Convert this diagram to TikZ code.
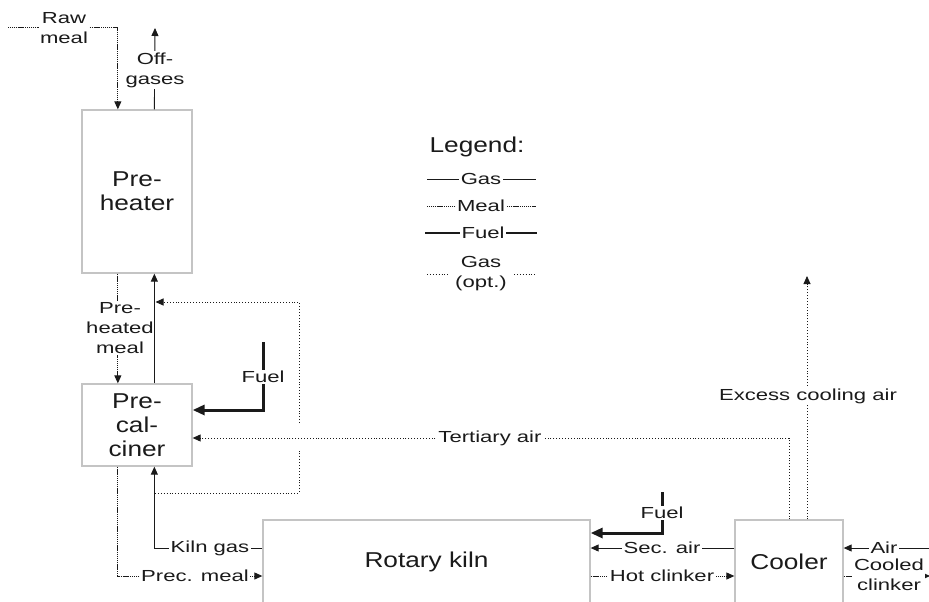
\documentclass[tikz,border=0pt]{standalone}
\usepackage{fontspec}
\setmainfont{Liberation Sans}
\newfontfamily\lblfont{Liberation Sans}[FakeStretch=1.38]
\newfontfamily\boxfont{Liberation Sans}[FakeStretch=1.22]
\usetikzlibrary{arrows.meta}
\definecolor{txt}{HTML}{1A1A1A}
\definecolor{boxc}{HTML}{C4C4C4}
\tikzset{
  box/.style={draw=boxc, line width=1.3pt, inner sep=0pt, text=txt,
    font=\boxfont\fontsize{21.5}{24}\selectfont, align=center},
  lbl/.style={fill=white, inner sep=1.5pt, text=txt,
    font=\lblfont\fontsize{16}{20}\selectfont, align=center},
  gas/.style={line width=0.9pt, draw=txt},
  meal/.style={line width=1pt, draw=txt, dash pattern=on 1.2pt off 0.7pt},
  optgas/.style={line width=0.9pt, draw=txt, dash pattern=on 0.9pt off 2pt},
  fuel/.style={line width=3pt, draw=txt},
  tip/.style={-{Triangle[length=8pt,width=7pt]}},
  bigtip/.style={-{Triangle[length=12pt,width=10pt]}},
}
\begin{document}
\begin{tikzpicture}[x=1pt, y=-1pt]
\useasboundingbox (0,0) rectangle (929,602);
\clip (0,0) rectangle (929,602);

% boxes
\node[box, minimum width=110pt, minimum height=163pt] (pre) at (137,191.5) {Pre-\\heater};
\node[box, minimum width=110pt, minimum height=82pt] (pc) at (137,425) {Pre-\\cal-\\ciner};
\node[box, minimum width=327pt, minimum height=84pt] (kiln) at (426.5,562) {Rotary kiln};
\node[box, minimum width=108pt, minimum height=84pt] (cool) at (789,562) {Cooler};

% free ends
\coordinate (rawin) at (8,28);
\coordinate (offout) at (155,28);
\coordinate (fuelA) at (263,342);
\coordinate (fuelB) at (662,492);
\coordinate (excess) at (807,276);
\coordinate (airin) at (935,548);
\coordinate (ccout) at (930,576);
\coordinate (byA) at (155,493);
\coordinate (byB) at (299,451);
\coordinate (byC) at (299,423);
\coordinate (byD) at (155.5,302);

% connectors
\draw[meal, tip] (rawin) -| ([xshift=36.5pt]pre.north west);
\draw[gas, tip] ([xshift=73pt]pre.north west) -- (offout);
\draw[meal, tip] ([xshift=36.5pt]pre.south west) -- ([xshift=36.5pt]pc.north west);
\draw[fuel, bigtip] (fuelA) |- ([yshift=15pt]pc.east);
\draw[optgas, tip] (cool.north) |- ([yshift=-13pt]pc.east);
\draw[optgas, tip] ([xshift=18pt]cool.north) -- (excess);
\draw[optgas] (byA) -| (byB);
\draw[optgas, tip] (byC) |- (byD);
\draw[gas, tip] ([yshift=14pt]kiln.west) -| ([xshift=73pt]pc.south west);
\draw[meal, tip] ([xshift=36.5pt]pc.south west) |- ([yshift=-14pt]kiln.west);
\draw[fuel, bigtip] (fuelB) |- ([yshift=29pt]kiln.east);
\draw[gas, tip] ([yshift=14pt]cool.west) -- ([yshift=14pt]kiln.east);
\draw[meal, tip] ([yshift=-14pt]kiln.east) -- ([yshift=-14pt]cool.west);
\draw[gas, tip] (airin) -- ([yshift=14pt]cool.east);
\draw[meal, tip] ([yshift=-14pt]cool.east) -- (ccout);

% labels on connectors
\node[lbl] (lraw) at (64,28) {Raw\\meal};
\node[lbl] (loff) at (155,70) {Off-\\gases};
\node[lbl] (lphm) at (120,328) {Pre-\\heated\\meal};
\node[lbl] (lf1) at (263,377) {Fuel};
\node[lbl] (lter) at (490,438) {Tertiary air};
\node[lbl] (lexc) at (808,396) {Excess cooling air};
\node[lbl] (lkg) at (210,548) {Kiln gas};
\node[lbl] (lpm) at (195,576) {Prec. meal};
\node[lbl] (lf2) at (662,513) {Fuel};
\node[lbl] (lsec) at (662,548) {Sec. air};
\node[lbl] (lhot) at (662,576) {Hot clinker};
\node[lbl] (lair) at (884,548) {Air};
\node[lbl] (lcc) at (889,575) {Cooled\\clinker};

% gas from precalciner to preheater, drawn over the neighbouring label
\draw[gas, tip] ([xshift=73pt]pc.north west) -- ([xshift=73pt]pre.south west);

% legend
\node[text=txt, font=\boxfont\fontsize{21.5}{24}\selectfont] (leg) at (477,147) {Legend:};
\coordinate (g1a) at (427,179); \coordinate (g1b) at (536,179);
\coordinate (g2a) at (427,206); \coordinate (g2b) at (536,206);
\coordinate (g3a) at (425,233); \coordinate (g3b) at (537,233);
\coordinate (g4a) at (427,274); \coordinate (g4b) at (536,274);
\draw[gas] (g1a) -- (g1b);
\draw[meal] (g2a) -- (g2b);
\draw[fuel, line width=2.6pt] (g3a) -- (g3b);
\draw[optgas] (g4a) -- (g4b);
\node[lbl] (lgas) at (481,179) {Gas};
\node[lbl] (lmeal) at (481,206) {Meal};
\node[lbl] (lfuel) at (483,233) {Fuel};
\node[lbl, inner xsep=5pt] (lopt) at (481,274) {Gas\\(opt.)};
\end{tikzpicture}
\end{document}
